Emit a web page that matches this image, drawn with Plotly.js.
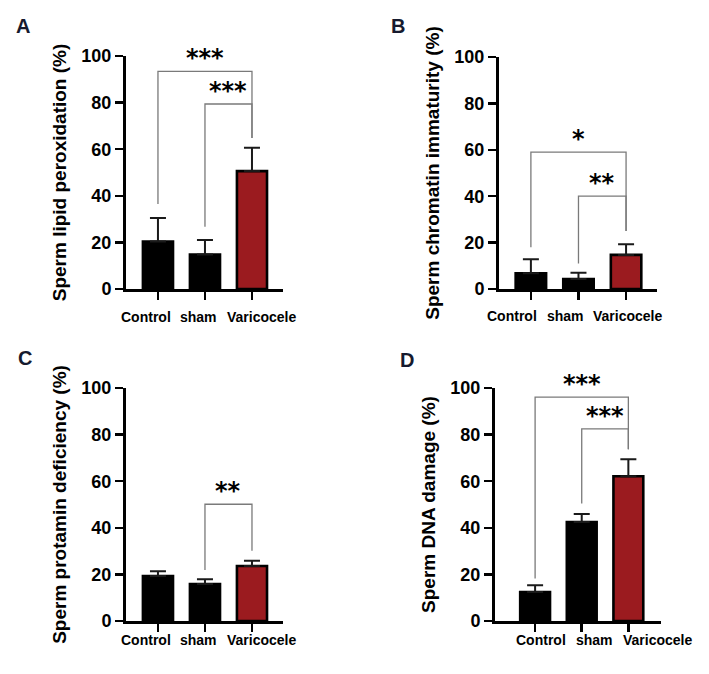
<!DOCTYPE html>
<html>
<head>
<meta charset="utf-8">
<script src="https://cdn.plot.ly/plotly-3.0.1.min.js"></script>
<style>html,body{margin:0;padding:0;background:#fff;}#chart{width:709px;height:674px;}</style>
</head>
<body>
<div id="chart"></div>
<script>
// ---- data ----
const groups = ["Control", "sham", "Varicocele"];
const yTicks = [0, 20, 40, 60, 80, 100];
const panelLetters = ["A", "B", "C", "D"];
const yTitles = [
  "Sperm lipid peroxidation (%)",
  "Sperm chromatin immaturity (%)",
  "Sperm protamin deficiency (%)",
  "Sperm DNA damage (%)"
];
// means
const lipidMean = [20.4, 14.8, 50.6];
const chromMean = [6.8, 4.3, 14.7];
const protMean = [19.3, 15.9, 23.6];
const dnaMean = [12.4, 42.5, 62.1];
// upper error (SD)
const lipidSD = [10.1, 6.2, 10.0];
const chromSD = [6.0, 2.7, 4.6];
const protSD = [2.0, 2.0, 2.3];
const dnaSD = [2.9, 3.4, 7.3];
// significance brackets: [fromGroup, toGroup, topY, leftLegEndY, rightLegEndY, label]
const lipidBrackets = [[0, 2, 93.4, 36.5, 64.8, "***"], [1, 2, 79.4, 26.7, 64.8, "***"]];
const chromBrackets = [[0, 2, 59.0, 18.0, 25.0, "*"], [1, 2, 40.0, 11.0, 25.0, "**"]];
const protBrackets = [[1, 2, 50.1, 21.9, 30.1, "**"]];
const dnaBrackets = [[0, 2, 96.1, 18.2, 73.7, "***"], [1, 2, 82.5, 50.4, 73.7, "***"]];

// ---- styling / layout ----
const W = 709, H = 674;
const barColors = ["#000000", "#000000", "#9B1B1F"];
const font = "Liberation Sans, Arial, sans-serif";
const panels = [
  {mean: lipidMean, sd: lipidSD, br: lipidBrackets, px: [126, 283], py: [56, 289], xr: [-0.68, 2.66], letter: [23, 26], lblShift: [-12, -6, 10], lblY: -28},
  {mean: chromMean, sd: chromSD, br: chromBrackets, px: [499, 657], py: [57, 289], xr: [-0.67, 2.65], letter: [398, 26], lblShift: [-19, -13, 1], lblY: -27},
  {mean: protMean, sd: protSD, br: protBrackets, px: [126, 283], py: [388, 621], xr: [-0.68, 2.66], letter: [25, 358], lblShift: [-12, -6, 10], lblY: -19},
  {mean: dnaMean, sd: dnaSD, br: dnaBrackets, px: [495, 661], py: [388, 621], xr: [-0.86, 2.70], letter: [407, 360], lblShift: [6, 13, 29], lblY: -19}
];

const traces = [];
const layout = {
  width: W, height: H,
  margin: {l: 0, r: 0, t: 0, b: 0},
  paper_bgcolor: "#fff", plot_bgcolor: "rgba(0,0,0,0)",
  showlegend: false,
  font: {family: font, color: "#000"},
  annotations: [],
  bargap: 0
};

panels.forEach((p, i) => {
  const n = i + 1;
  const xa = "x" + (n === 1 ? "" : n), ya = "y" + (n === 1 ? "" : n);
  const xk = "xaxis" + (n === 1 ? "" : n), yk = "yaxis" + (n === 1 ? "" : n);
  const xs = groups.map((g, j) => j);
  // brackets
  p.br.forEach(b => {
    traces.push({
      type: "scatter", mode: "lines", xaxis: xa, yaxis: ya,
      x: [b[0], b[0], b[1], b[1]], y: [b[3], b[2], b[2], b[4]],
      line: {color: "#7a7a7a", width: 1.3}, hoverinfo: "skip", cliponaxis: false
    });
    layout.annotations.push({
      xref: xa, yref: ya, x: (b[0] + b[1]) / 2, y: b[2],
      text: "<b>" + b[5] + "</b>", showarrow: false,
      yanchor: "middle", yshift: 13,
      font: {family: "DejaVu Sans, sans-serif", size: 24, color: "#000"}
    });
  });
  traces.push({
    type: "bar", xaxis: xa, yaxis: ya, x: xs, y: p.mean, width: 0.64,
    marker: {color: barColors, line: {color: "#000", width: 2.6}},
    error_y: {type: "data", symmetric: false, array: p.sd, arrayminus: p.sd.map(() => 0),
      color: "#1a1a1a", thickness: 2, width: 8},
    hoverinfo: "skip"
  });
  // category labels (laid out as in the reference, as a row below the axis)
  groups.forEach((g, j) => {
    layout.annotations.push({
      xref: xa, yref: ya + " domain", x: j, y: 0, xshift: p.lblShift[j], yshift: p.lblY,
      text: "<b>" + g + "</b>", showarrow: false, xanchor: "center", yanchor: "middle",
      font: {family: font, size: 14, color: "#000"}
    });
  });
  layout[xk] = {
    domain: [p.px[0] / W, p.px[1] / W], anchor: ya, range: p.xr,
    tickmode: "array", tickvals: xs, ticktext: groups.map(() => ""),
    showline: true, linecolor: "#000", linewidth: 3, ticks: "outside", ticklen: 8, tickwidth: 2.5, tickcolor: "#000",
    showgrid: false, zeroline: false, fixedrange: true, showticklabels: false
  };
  layout[yk] = {
    domain: [(H - p.py[1]) / H, (H - p.py[0]) / H], anchor: xa, range: [0, 100],
    tickmode: "array", tickvals: yTicks,
    showline: true, linecolor: "#000", linewidth: 3, ticks: "outside", ticklen: 8, tickwidth: 2.5, tickcolor: "#000",
    showgrid: false, zeroline: false, fixedrange: true,
    tickfont: {family: font, size: 18, weight: "bold", color: "#000"},
    title: {text: yTitles[i], standoff: 10, font: {family: font, size: 19, weight: "bold", color: "#000"}}
  };
  layout.annotations.push({
    xref: "paper", yref: "paper", x: p.letter[0] / W, y: 1 - p.letter[1] / H,
    text: "<b>" + panelLetters[i] + "</b>", showarrow: false, xanchor: "center", yanchor: "middle",
    font: {family: font, size: 20, color: "#161a2e"}
  });
});

Plotly.newPlot("chart", traces, layout, {displayModeBar: false, staticPlot: true});
</script>
</body>
</html>
